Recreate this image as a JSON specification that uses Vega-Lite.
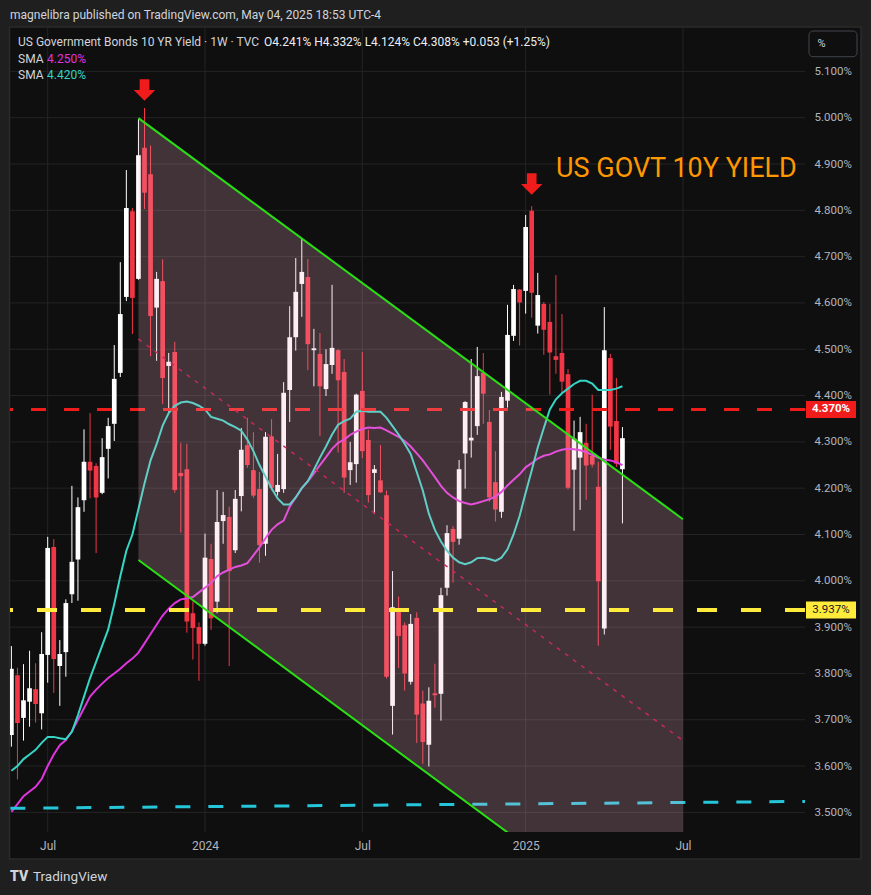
{
"$schema": "https://vega.github.io/schema/vega-lite/v6.json",
"width": 795,
"height": 804,
"autosize": {"type": "none"},
"padding": {"left": 10, "top": 28, "right": 66, "bottom": 63},
"background": "#0f0f0f",
"config": {"view": {"stroke": null}, "font": "Roboto",
  "scale": {"continuousPadding": 0},
  "axis": {"grid": false, "ticks": false, "domain": false, "labelColor": "#b2b5be", "labelFont": "Roboto", "labelFlush": false, "labelOverlap": false, "labelBound": false}},
"datasets": {
"candles": [
{"d":"2023-05-22","o":3.667,"h":3.859,"l":3.642,"c":3.810,"s20":3.590,"s50":3.501},
{"d":"2023-05-29","o":3.796,"h":3.812,"l":3.571,"c":3.693,"s20":3.600,"s50":3.518},
{"d":"2023-06-05","o":3.704,"h":3.820,"l":3.655,"c":3.742,"s20":3.615,"s50":3.535},
{"d":"2023-06-12","o":3.739,"h":3.849,"l":3.685,"c":3.768,"s20":3.625,"s50":3.545},
{"d":"2023-06-19","o":3.766,"h":3.822,"l":3.694,"c":3.734,"s20":3.635,"s50":3.555},
{"d":"2023-06-26","o":3.714,"h":3.889,"l":3.679,"c":3.842,"s20":3.650,"s50":3.572},
{"d":"2023-07-03","o":3.840,"h":4.095,"l":3.780,"c":4.071,"s20":3.663,"s50":3.600},
{"d":"2023-07-10","o":4.073,"h":4.090,"l":3.758,"c":3.831,"s20":3.663,"s50":3.625},
{"d":"2023-07-17","o":3.816,"h":3.872,"l":3.730,"c":3.842,"s20":3.660,"s50":3.645},
{"d":"2023-07-24","o":3.846,"h":3.960,"l":3.793,"c":3.952,"s20":3.658,"s50":3.656},
{"d":"2023-07-31","o":3.971,"h":4.205,"l":3.952,"c":4.041,"s20":3.674,"s50":3.675},
{"d":"2023-08-07","o":4.046,"h":4.180,"l":3.957,"c":4.159,"s20":3.710,"s50":3.700},
{"d":"2023-08-14","o":4.174,"h":4.327,"l":4.149,"c":4.257,"s20":3.750,"s50":3.725},
{"d":"2023-08-21","o":4.257,"h":4.362,"l":4.178,"c":4.238,"s20":3.790,"s50":3.750},
{"d":"2023-08-28","o":4.248,"h":4.254,"l":4.060,"c":4.180,"s20":3.825,"s50":3.765},
{"d":"2023-09-04","o":4.190,"h":4.308,"l":4.187,"c":4.267,"s20":3.860,"s50":3.778},
{"d":"2023-09-11","o":4.285,"h":4.352,"l":4.221,"c":4.334,"s20":3.895,"s50":3.790},
{"d":"2023-09-18","o":4.339,"h":4.509,"l":4.302,"c":4.436,"s20":3.950,"s50":3.800},
{"d":"2023-09-25","o":4.449,"h":4.688,"l":4.440,"c":4.576,"s20":4.010,"s50":3.810},
{"d":"2023-10-02","o":4.613,"h":4.887,"l":4.604,"c":4.805,"s20":4.065,"s50":3.822},
{"d":"2023-10-09","o":4.798,"h":4.805,"l":4.533,"c":4.611,"s20":4.100,"s50":3.832},
{"d":"2023-10-16","o":4.652,"h":4.997,"l":4.650,"c":4.919,"s20":4.155,"s50":3.845},
{"d":"2023-10-23","o":4.935,"h":5.021,"l":4.803,"c":4.838,"s20":4.210,"s50":3.865},
{"d":"2023-10-30","o":4.878,"h":4.940,"l":4.485,"c":4.572,"s20":4.260,"s50":3.885},
{"d":"2023-11-06","o":4.590,"h":4.667,"l":4.475,"c":4.652,"s20":4.295,"s50":3.905},
{"d":"2023-11-13","o":4.647,"h":4.694,"l":4.382,"c":4.438,"s20":4.335,"s50":3.925},
{"d":"2023-11-20","o":4.464,"h":4.492,"l":4.365,"c":4.473,"s20":4.362,"s50":3.940},
{"d":"2023-11-27","o":4.494,"h":4.516,"l":4.190,"c":4.196,"s20":4.378,"s50":3.952},
{"d":"2023-12-04","o":4.233,"h":4.298,"l":4.104,"c":4.226,"s20":4.385,"s50":3.960},
{"d":"2023-12-11","o":4.241,"h":4.296,"l":3.888,"c":3.912,"s20":4.387,"s50":3.962},
{"d":"2023-12-18","o":3.930,"h":3.955,"l":3.830,"c":3.898,"s20":4.384,"s50":3.965},
{"d":"2023-12-25","o":3.900,"h":3.910,"l":3.784,"c":3.864,"s20":4.378,"s50":3.975},
{"d":"2024-01-01","o":3.864,"h":4.102,"l":3.860,"c":4.050,"s20":4.370,"s50":3.985},
{"d":"2024-01-08","o":4.047,"h":4.080,"l":3.894,"c":3.919,"s20":4.354,"s50":3.995},
{"d":"2024-01-15","o":3.955,"h":4.196,"l":3.930,"c":4.127,"s20":4.350,"s50":4.010},
{"d":"2024-01-22","o":4.129,"h":4.192,"l":4.080,"c":4.142,"s20":4.346,"s50":4.018},
{"d":"2024-01-29","o":4.138,"h":4.160,"l":3.816,"c":4.021,"s20":4.338,"s50":4.024},
{"d":"2024-02-05","o":4.066,"h":4.196,"l":4.060,"c":4.177,"s20":4.332,"s50":4.030},
{"d":"2024-02-12","o":4.183,"h":4.330,"l":4.150,"c":4.283,"s20":4.324,"s50":4.033},
{"d":"2024-02-19","o":4.293,"h":4.352,"l":4.244,"c":4.250,"s20":4.305,"s50":4.038},
{"d":"2024-02-26","o":4.239,"h":4.321,"l":4.179,"c":4.184,"s20":4.280,"s50":4.055},
{"d":"2024-03-04","o":4.198,"h":4.235,"l":4.039,"c":4.077,"s20":4.250,"s50":4.072},
{"d":"2024-03-11","o":4.080,"h":4.321,"l":4.054,"c":4.311,"s20":4.225,"s50":4.092},
{"d":"2024-03-18","o":4.312,"h":4.349,"l":4.195,"c":4.201,"s20":4.200,"s50":4.110},
{"d":"2024-03-25","o":4.192,"h":4.274,"l":4.184,"c":4.207,"s20":4.178,"s50":4.122},
{"d":"2024-04-01","o":4.198,"h":4.429,"l":4.190,"c":4.406,"s20":4.165,"s50":4.130},
{"d":"2024-04-08","o":4.412,"h":4.593,"l":4.343,"c":4.526,"s20":4.165,"s50":4.160},
{"d":"2024-04-15","o":4.526,"h":4.697,"l":4.497,"c":4.624,"s20":4.180,"s50":4.180},
{"d":"2024-04-22","o":4.641,"h":4.740,"l":4.570,"c":4.667,"s20":4.200,"s50":4.200},
{"d":"2024-04-29","o":4.656,"h":4.695,"l":4.455,"c":4.511,"s20":4.215,"s50":4.215},
{"d":"2024-05-06","o":4.498,"h":4.544,"l":4.420,"c":4.502,"s20":4.240,"s50":4.232},
{"d":"2024-05-13","o":4.490,"h":4.535,"l":4.313,"c":4.420,"s20":4.266,"s50":4.250},
{"d":"2024-05-20","o":4.414,"h":4.500,"l":4.399,"c":4.468,"s20":4.290,"s50":4.267},
{"d":"2024-05-27","o":4.466,"h":4.639,"l":4.447,"c":4.503,"s20":4.316,"s50":4.285},
{"d":"2024-06-03","o":4.498,"h":4.500,"l":4.277,"c":4.433,"s20":4.337,"s50":4.298},
{"d":"2024-06-10","o":4.451,"h":4.479,"l":4.190,"c":4.223,"s20":4.345,"s50":4.305},
{"d":"2024-06-17","o":4.239,"h":4.300,"l":4.207,"c":4.256,"s20":4.350,"s50":4.315},
{"d":"2024-06-24","o":4.252,"h":4.404,"l":4.212,"c":4.402,"s20":4.365,"s50":4.322},
{"d":"2024-07-01","o":4.410,"h":4.494,"l":4.265,"c":4.280,"s20":4.367,"s50":4.328},
{"d":"2024-07-08","o":4.304,"h":4.326,"l":4.169,"c":4.185,"s20":4.365,"s50":4.331},
{"d":"2024-07-15","o":4.233,"h":4.250,"l":4.144,"c":4.241,"s20":4.365,"s50":4.330},
{"d":"2024-07-22","o":4.217,"h":4.293,"l":4.190,"c":4.191,"s20":4.365,"s50":4.331},
{"d":"2024-07-29","o":4.185,"h":4.195,"l":3.789,"c":3.793,"s20":4.352,"s50":4.325},
{"d":"2024-08-05","o":3.730,"h":4.021,"l":3.668,"c":3.943,"s20":4.334,"s50":4.318},
{"d":"2024-08-12","o":3.941,"h":3.966,"l":3.812,"c":3.881,"s20":4.316,"s50":4.311},
{"d":"2024-08-19","o":3.904,"h":3.910,"l":3.763,"c":3.800,"s20":4.296,"s50":4.302},
{"d":"2024-08-26","o":3.782,"h":3.928,"l":3.776,"c":3.907,"s20":4.274,"s50":4.290},
{"d":"2024-09-02","o":3.920,"h":3.932,"l":3.650,"c":3.711,"s20":4.235,"s50":4.275},
{"d":"2024-09-09","o":3.735,"h":3.763,"l":3.605,"c":3.652,"s20":4.195,"s50":4.260},
{"d":"2024-09-16","o":3.646,"h":3.770,"l":3.599,"c":3.741,"s20":4.145,"s50":4.242},
{"d":"2024-09-23","o":3.757,"h":3.821,"l":3.726,"c":3.753,"s20":4.110,"s50":4.224},
{"d":"2024-09-30","o":3.756,"h":3.985,"l":3.698,"c":3.969,"s20":4.085,"s50":4.205},
{"d":"2024-10-07","o":3.985,"h":4.120,"l":3.968,"c":4.103,"s20":4.065,"s50":4.190},
{"d":"2024-10-14","o":4.112,"h":4.118,"l":3.996,"c":4.084,"s20":4.050,"s50":4.180},
{"d":"2024-10-21","o":4.091,"h":4.261,"l":4.078,"c":4.241,"s20":4.040,"s50":4.172},
{"d":"2024-10-28","o":4.275,"h":4.388,"l":4.199,"c":4.386,"s20":4.036,"s50":4.168},
{"d":"2024-11-04","o":4.303,"h":4.479,"l":4.266,"c":4.309,"s20":4.040,"s50":4.165},
{"d":"2024-11-11","o":4.334,"h":4.505,"l":4.315,"c":4.442,"s20":4.049,"s50":4.168},
{"d":"2024-11-18","o":4.449,"h":4.492,"l":4.339,"c":4.404,"s20":4.050,"s50":4.172},
{"d":"2024-11-25","o":4.343,"h":4.369,"l":4.171,"c":4.180,"s20":4.047,"s50":4.176},
{"d":"2024-12-02","o":4.213,"h":4.280,"l":4.128,"c":4.154,"s20":4.043,"s50":4.182},
{"d":"2024-12-09","o":4.149,"h":4.408,"l":4.136,"c":4.397,"s20":4.050,"s50":4.192},
{"d":"2024-12-16","o":4.389,"h":4.596,"l":4.374,"c":4.531,"s20":4.068,"s50":4.206},
{"d":"2024-12-23","o":4.529,"h":4.639,"l":4.518,"c":4.630,"s20":4.100,"s50":4.218},
{"d":"2024-12-30","o":4.629,"h":4.630,"l":4.508,"c":4.601,"s20":4.140,"s50":4.230},
{"d":"2025-01-06","o":4.626,"h":4.790,"l":4.577,"c":4.764,"s20":4.190,"s50":4.245},
{"d":"2025-01-13","o":4.799,"h":4.809,"l":4.568,"c":4.622,"s20":4.238,"s50":4.254},
{"d":"2025-01-20","o":4.551,"h":4.665,"l":4.534,"c":4.617,"s20":4.288,"s50":4.264},
{"d":"2025-01-27","o":4.598,"h":4.602,"l":4.488,"c":4.542,"s20":4.330,"s50":4.270},
{"d":"2025-02-03","o":4.559,"h":4.598,"l":4.402,"c":4.493,"s20":4.370,"s50":4.273},
{"d":"2025-02-10","o":4.485,"h":4.660,"l":4.447,"c":4.477,"s20":4.392,"s50":4.279},
{"d":"2025-02-17","o":4.492,"h":4.576,"l":4.406,"c":4.430,"s20":4.405,"s50":4.283},
{"d":"2025-02-24","o":4.446,"h":4.457,"l":4.197,"c":4.201,"s20":4.415,"s50":4.285},
{"d":"2025-03-03","o":4.240,"h":4.346,"l":4.108,"c":4.307,"s20":4.425,"s50":4.284},
{"d":"2025-03-10","o":4.266,"h":4.354,"l":4.153,"c":4.321,"s20":4.432,"s50":4.282},
{"d":"2025-03-17","o":4.298,"h":4.339,"l":4.175,"c":4.249,"s20":4.432,"s50":4.278},
{"d":"2025-03-24","o":4.270,"h":4.402,"l":4.245,"c":4.251,"s20":4.426,"s50":4.272},
{"d":"2025-03-31","o":4.203,"h":4.257,"l":3.860,"c":3.999,"s20":4.412,"s50":4.266},
{"d":"2025-04-07","o":3.897,"h":4.591,"l":3.884,"c":4.498,"s20":4.412,"s50":4.262},
{"d":"2025-04-14","o":4.481,"h":4.490,"l":4.283,"c":4.333,"s20":4.412,"s50":4.260},
{"d":"2025-04-21","o":4.345,"h":4.438,"l":4.246,"c":4.253,"s20":4.415,"s50":4.256},
{"d":"2025-04-28","o":4.241,"h":4.332,"l":4.124,"c":4.308,"s20":4.420,"s50":4.250}
]
},
"layer": [
{"data": {"values": [{}]},
 "mark": {"type": "rect", "fill": "#1f1f1f"},
 "encoding": {
  "x": {"datum": {"year": 2023, "month": 5, "date": 1, "utc": true}, "type": "temporal", "title": null},
  "x2": {"datum": {"year": 2026, "month": 2, "date": 20, "utc": true}},
  "y": {"datum": 5.27, "type": "quantitative", "title": null},
  "y2": {"datum": 5.1959}}},
{"data": {"values": [{}]},
 "mark": {"type": "rect", "fill": "#1f1f1f"},
 "encoding": {
  "x": {"datum": {"year": 2023, "month": 5, "date": 1, "utc": true}, "type": "temporal", "title": null},
  "x2": {"datum": {"year": 2026, "month": 2, "date": 20, "utc": true}},
  "y": {"datum": 3.3993, "type": "quantitative", "title": null},
  "y2": {"datum": 3.30}}},
{"data": {"values": [{}]},
 "mark": {"type": "rect", "fill": "#1f1f1f"},
 "encoding": {
  "x": {"datum": {"year": 2023, "month": 5, "date": 1, "utc": true}, "type": "temporal", "title": null},
  "x2": {"datum": {"year": 2023, "month": 5, "date": 19, "hours": 19, "utc": true}},
  "y": {"datum": 5.1959, "type": "quantitative", "title": null},
  "y2": {"datum": 3.3993}}},
{"data": {"values": [{}]},
 "mark": {"type": "rect", "fill": "#1f1f1f"},
 "encoding": {
  "x": {"datum": {"year": 2026, "month": 1, "date": 29, "utc": true}, "type": "temporal", "title": null},
  "x2": {"datum": {"year": 2026, "month": 2, "date": 20, "utc": true}},
  "y": {"datum": 5.1959, "type": "quantitative", "title": null},
  "y2": {"datum": 3.3993}}},
{"data": {"values": [{}]},
 "mark": {"type": "rect", "fill": null, "fillOpacity": 0, "stroke": "#2b2b2b", "strokeWidth": 1.5},
 "encoding": {
  "x": {"datum": {"year": 2023, "month": 5, "date": 19, "hours": 19, "utc": true}, "type": "temporal", "title": null},
  "x2": {"datum": {"year": 2026, "month": 1, "date": 29, "utc": true}},
  "y": {"datum": 5.1959, "type": "quantitative", "title": null},
  "y2": {"datum": 3.3993}}},
{"data": {"values": [{"v":3.5},{"v":3.6},{"v":3.7},{"v":3.8},{"v":3.9},{"v":4.0},{"v":4.1},{"v":4.2},{"v":4.3},{"v":4.4},{"v":4.5},{"v":4.6},{"v":4.7},{"v":4.8},{"v":4.9},{"v":5.0},{"v":5.1}]},
 "mark": {"type": "rule", "stroke": "#242424", "strokeWidth": 1},
 "encoding": {
  "y": {"field": "v", "type": "quantitative", "title": null,
   "scale": {"domain": [3.4576, 5.1937], "zero": false, "nice": false, "padding": 0},
   "axis": {"orient": "right", "values": [3.5,3.6,3.7,3.8,3.9,4.0,4.1,4.2,4.3,4.4,4.5,4.6,4.7,4.8,4.9,5.0,5.1],
    "labelExpr": "format(datum.value, '.3f') + '%'", "labelPadding": 9, "labelFontSize": 11.5, "title": null}}}},
{"data": {"values": [{"d":"2023-07-03"},{"d":"2024-01-01"},{"d":"2024-07-01"},{"d":"2025-01-06"},{"d":"2025-07-07"}]},
 "mark": {"type": "rule", "stroke": "#242424", "strokeWidth": 1},
 "encoding": {
  "x": {"field": "d", "type": "temporal", "title": null,
   "scale": {"type": "utc", "padding": 0, "nice": false, "domain": [{"year": 2023, "month": 5, "date": 20, "hours": 9, "minutes": 4, "utc": true}, {"year": 2025, "month": 11, "date": 25, "hours": 5, "minutes": 2, "utc": true}]},
   "axis": {"orient": "bottom", "values": [{"year":2023,"month":7,"date":3,"utc":true},{"year":2024,"month":1,"date":1,"utc":true},{"year":2024,"month":7,"date":1,"utc":true},{"year":2025,"month":1,"date":6,"utc":true},{"year":2025,"month":7,"date":7,"utc":true}],
    "labelExpr": "utcFormat(datum.value, '%m') == '01' ? utcFormat(datum.value, '%Y') : 'Jul'",
    "labelPadding": 8, "labelFontSize": 12, "title": null}}}},
{"data": {"name": "candles"},
 "mark": {"type": "rule", "strokeWidth": 1, "clip": true},
 "encoding": {
  "x": {"field": "d", "type": "temporal", "title": null},
  "y": {"field": "l", "type": "quantitative", "title": null},
  "y2": {"field": "h"},
  "color": {"condition": {"test": "datum.c >= datum.o", "value": "#ffffff"}, "value": "#f23645"}}},
{"data": {"name": "candles"},
 "mark": {"type": "bar", "size": 4.7, "clip": true},
 "encoding": {
  "x": {"field": "d", "type": "temporal", "title": null, "scale": {"padding": 0}},
  "y": {"field": "o", "type": "quantitative", "title": null},
  "y2": {"field": "c"},
  "color": {"condition": {"test": "datum.c >= datum.o", "value": "#ffffff"}, "value": "#f23645"}}},
{"data": {"name": "candles"},
 "mark": {"type": "line", "stroke": "#e034df", "strokeWidth": 2, "clip": true},
 "encoding": {
  "x": {"field": "d", "type": "temporal", "title": null},
  "y": {"field": "s50", "type": "quantitative", "title": null}}},
{"data": {"name": "candles"},
 "mark": {"type": "line", "stroke": "#36d6c6", "strokeWidth": 2, "clip": true},
 "encoding": {
  "x": {"field": "d", "type": "temporal", "title": null},
  "y": {"field": "s20", "type": "quantitative", "title": null}}},
{"data": {"values": [{}]},
 "mark": {"type": "rule", "stroke": "#f01c1c", "strokeWidth": 3, "strokeDash": [15, 18]},
 "encoding": {"y": {"datum": 4.37, "type": "quantitative", "title": null}}},
{"data": {"values": [{"d": "2023-05-15", "v": 3.5087}, {"d": "2025-12-01", "v": 3.5237}]},
 "mark": {"type": "line", "stroke": "#26c6da", "strokeWidth": 3, "strokeDash": [15, 18], "strokeDashOffset": 28, "clip": true},
 "encoding": {
  "x": {"field": "d", "type": "temporal", "title": null},
  "y": {"field": "v", "type": "quantitative", "title": null}}},
{"data": {"values": [{"d": "2023-10-16", "up": 4.999, "lo": 4.045}, {"d": "2025-07-07", "up": 4.133, "lo": 3.177}]},
 "mark": {"type": "area", "fill": "#f5b4cb", "opacity": 0.225, "clip": true},
 "encoding": {
  "x": {"field": "d", "type": "temporal", "title": null},
  "y": {"field": "up", "type": "quantitative", "title": null},
  "y2": {"field": "lo"}}},
{"data": {"values": [{"d": "2023-10-16", "v": 4.522}, {"d": "2025-07-07", "v": 3.655}]},
 "mark": {"type": "line", "stroke": "#c8285a", "strokeWidth": 1.5, "strokeDash": [4, 6], "clip": true},
 "encoding": {
  "x": {"field": "d", "type": "temporal", "title": null},
  "y": {"field": "v", "type": "quantitative", "title": null}}},
{"data": {"values": [{"d": "2023-10-16", "v": 4.999, "k": "upper"}, {"d": "2025-07-07", "v": 4.133, "k": "upper"}, {"d": "2023-10-16", "v": 4.045, "k": "lower"}, {"d": "2025-07-07", "v": 3.177, "k": "lower"}]},
 "mark": {"type": "line", "stroke": "#2ae014", "strokeWidth": 2, "clip": true},
 "encoding": {
  "x": {"field": "d", "type": "temporal", "title": null},
  "y": {"field": "v", "type": "quantitative", "title": null},
  "detail": {"field": "k"}}},
{"data": {"values": [{}]},
 "mark": {"type": "rule", "stroke": "#ffeb3b", "strokeWidth": 4, "strokeDash": [20, 24]},
 "encoding": {"y": {"datum": 3.937, "type": "quantitative", "title": null}}},
{"data": {"values": [{"d": "2023-10-23", "v": 5.06}, {"d": "2025-01-13", "v": 4.857}]},
 "mark": {"type": "point", "shape": "M-0.45,-1L0.45,-1L0.45,0L1,0L0,1L-1,0L-0.45,0Z", "filled": true, "fill": "#f01c1c", "strokeWidth": 0, "size": 460, "opacity": 1},
 "encoding": {
  "x": {"field": "d", "type": "temporal", "title": null},
  "y": {"field": "v", "type": "quantitative", "title": null}}},
{"data": {"values": [{}]},
 "mark": {"type": "text", "text": "US GOVT 10Y YIELD", "font": "Roboto", "fontSize": 27, "color": "#ff9800", "align": "left", "baseline": "alphabetic"},
 "encoding": {
  "x": {"datum": {"year": 2025, "month": 2, "date": 10, "hours": 2, "minutes": 53, "utc": true}, "type": "temporal", "title": null},
  "y": {"datum": 4.872, "type": "quantitative", "title": null}}},
{"data": {"values": [{}]},
 "mark": {"type": "rect", "fill": "#f01c1c"},
 "encoding": {
  "x": {"datum": {"year": 2025, "month": 11, "date": 26, "hours": 8, "minutes": 53, "utc": true}, "type": "temporal", "title": null},
  "x2": {"datum": {"year": 2026, "month": 1, "date": 23, "hours": 5, "minutes": 17, "utc": true}},
  "y": {"datum": 4.3884, "type": "quantitative", "title": null},
  "y2": {"datum": 4.3516}}},
{"data": {"values": [{}]},
 "mark": {"type": "text", "text": "4.370%", "font": "Roboto", "fontSize": 11.5, "fontWeight": "bold", "color": "#ffffff", "align": "center", "baseline": "middle"},
 "encoding": {
  "x": {"datum": {"year": 2025, "month": 12, "date": 25, "hours": 7, "minutes": 12, "utc": true}, "type": "temporal", "title": null},
  "y": {"datum": 4.37, "type": "quantitative", "title": null}}},
{"data": {"values": [{}]},
 "mark": {"type": "rect", "fill": "#ffeb3b"},
 "encoding": {
  "x": {"datum": {"year": 2025, "month": 11, "date": 26, "hours": 8, "minutes": 53, "utc": true}, "type": "temporal", "title": null},
  "x2": {"datum": {"year": 2026, "month": 1, "date": 23, "hours": 5, "minutes": 17, "utc": true}},
  "y": {"datum": 3.9554, "type": "quantitative", "title": null},
  "y2": {"datum": 3.9186}}},
{"data": {"values": [{}]},
 "mark": {"type": "text", "text": "3.937%", "font": "Roboto", "fontSize": 11.5, "color": "#131722", "align": "center", "baseline": "middle"},
 "encoding": {
  "x": {"datum": {"year": 2025, "month": 12, "date": 25, "hours": 7, "minutes": 12, "utc": true}, "type": "temporal", "title": null},
  "y": {"datum": 3.937, "type": "quantitative", "title": null}}},
{"data": {"values": [{}]},
 "mark": {"type": "rect", "fill": "#0f0f0f", "stroke": "#434651", "strokeWidth": 1, "cornerRadius": 4},
 "encoding": {
  "x": {"datum": {"year": 2025, "month": 11, "date": 29, "hours": 20, "minutes": 10, "utc": true}, "type": "temporal", "title": null},
  "x2": {"datum": {"year": 2026, "month": 1, "date": 24, "hours": 9, "minutes": 7, "utc": true}},
  "y": {"datum": 5.1872, "type": "quantitative", "title": null},
  "y2": {"datum": 5.1317}}},
{"data": {"values": [{}]},
 "mark": {"type": "text", "text": "%", "font": "Roboto", "fontSize": 11, "color": "#d1d4dc", "align": "center", "baseline": "middle"},
 "encoding": {
  "x": {"datum": {"year": 2025, "month": 12, "date": 14, "hours": 7, "minutes": 26, "utc": true}, "type": "temporal", "title": null},
  "y": {"datum": 5.1591, "type": "quantitative", "title": null}}},
{"data": {"values": [{}]},
 "mark": {"type": "text", "text": "magnelibra published on TradingView.com, May 04, 2025 18:53 UTC-4", "font": "Roboto", "fontSize": 12, "color": "#d1d4dc", "align": "left", "baseline": "middle"},
 "encoding": {
  "x": {"datum": {"year": 2023, "month": 5, "date": 20, "hours": 9, "minutes": 4, "utc": true}, "type": "temporal", "title": null},
  "y": {"datum": 5.2218, "type": "quantitative", "title": null}}},
{"data": {"values": [{}]},
 "mark": {"type": "text", "text": "US Government Bonds 10 YR Yield · 1W · TVC", "font": "Roboto", "fontSize": 12, "color": "#d1d4dc", "align": "left", "baseline": "middle", "dx": 8},
 "encoding": {
  "x": {"datum": {"year": 2023, "month": 5, "date": 20, "hours": 9, "minutes": 4, "utc": true}, "type": "temporal", "title": null},
  "y": {"datum": 5.1635, "type": "quantitative", "title": null}}},
{"data": {"values": [{}]},
 "mark": {"type": "text", "text": "O4.241%  H4.332%  L4.124%  C4.308%  +0.053 (+1.25%)", "font": "Roboto", "fontSize": 12, "color": "#eceef2", "align": "left", "baseline": "middle", "dx": 254},
 "encoding": {
  "x": {"datum": {"year": 2023, "month": 5, "date": 20, "hours": 9, "minutes": 4, "utc": true}, "type": "temporal", "title": null},
  "y": {"datum": 5.1635, "type": "quantitative", "title": null}}},
{"data": {"values": [{}]},
 "mark": {"type": "text", "text": "SMA", "font": "Roboto", "fontSize": 12, "color": "#d1d4dc", "align": "left", "baseline": "middle", "dx": 8},
 "encoding": {
  "x": {"datum": {"year": 2023, "month": 5, "date": 20, "hours": 9, "minutes": 4, "utc": true}, "type": "temporal", "title": null},
  "y": {"datum": 5.1268, "type": "quantitative", "title": null}}},
{"data": {"values": [{}]},
 "mark": {"type": "text", "text": "4.250%", "font": "Roboto", "fontSize": 12, "color": "#e034df", "align": "left", "baseline": "middle", "dx": 37},
 "encoding": {
  "x": {"datum": {"year": 2023, "month": 5, "date": 20, "hours": 9, "minutes": 4, "utc": true}, "type": "temporal", "title": null},
  "y": {"datum": 5.1268, "type": "quantitative", "title": null}}},
{"data": {"values": [{}]},
 "mark": {"type": "text", "text": "SMA", "font": "Roboto", "fontSize": 12, "color": "#d1d4dc", "align": "left", "baseline": "middle", "dx": 8},
 "encoding": {
  "x": {"datum": {"year": 2023, "month": 5, "date": 20, "hours": 9, "minutes": 4, "utc": true}, "type": "temporal", "title": null},
  "y": {"datum": 5.0912, "type": "quantitative", "title": null}}},
{"data": {"values": [{}]},
 "mark": {"type": "text", "text": "4.420%", "font": "Roboto", "fontSize": 12, "color": "#2fd4c4", "align": "left", "baseline": "middle", "dx": 37},
 "encoding": {
  "x": {"datum": {"year": 2023, "month": 5, "date": 20, "hours": 9, "minutes": 4, "utc": true}, "type": "temporal", "title": null},
  "y": {"datum": 5.0912, "type": "quantitative", "title": null}}},
{"data": {"values": [{}]},
 "mark": {"type": "text", "text": "TV", "font": "Roboto", "fontSize": 14, "fontWeight": 900, "color": "#d1d4dc", "align": "left", "baseline": "middle"},
 "encoding": {
  "x": {"datum": {"year": 2023, "month": 5, "date": 20, "hours": 9, "minutes": 4, "utc": true}, "type": "temporal", "title": null},
  "y": {"datum": 3.3604, "type": "quantitative", "title": null}}},
{"data": {"values": [{}]},
 "mark": {"type": "text", "text": "TradingView", "font": "Roboto", "fontSize": 13.5, "color": "#d1d4dc", "align": "left", "baseline": "middle", "dx": 23},
 "encoding": {
  "x": {"datum": {"year": 2023, "month": 5, "date": 20, "hours": 9, "minutes": 4, "utc": true}, "type": "temporal", "title": null},
  "y": {"datum": 3.3604, "type": "quantitative", "title": null}}}
]
}
